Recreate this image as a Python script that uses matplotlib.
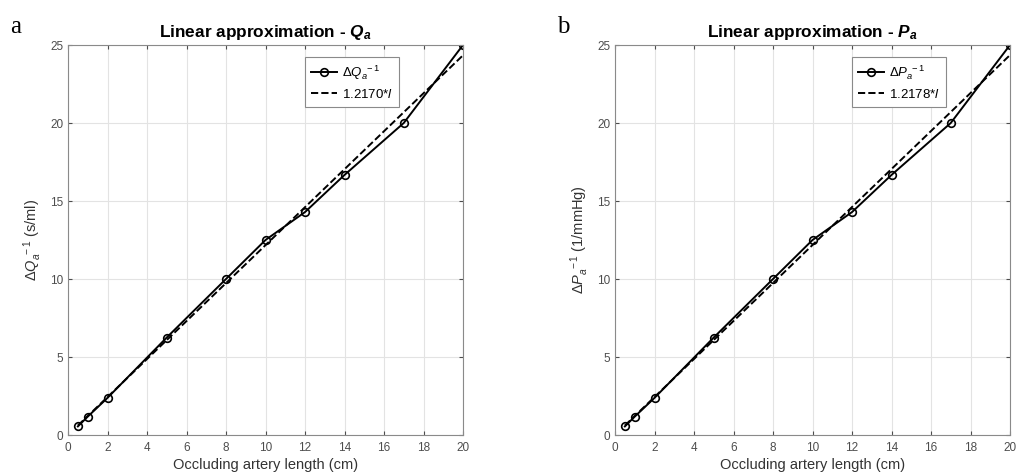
import matplotlib
matplotlib.use("Agg")
import matplotlib.pyplot as plt
import numpy as np

plt.rcParams['font.family'] = ['Liberation Sans', 'DejaVu Sans']
plt.rcParams['mathtext.fontset'] = 'custom'
plt.rcParams['mathtext.rm'] = 'Liberation Sans'
plt.rcParams['mathtext.it'] = 'Liberation Sans:italic'
plt.rcParams['mathtext.bf'] = 'Liberation Sans:bold'
plt.rcParams['mathtext.bfit'] = 'Liberation Sans:italic:bold'

# data
length = [0.5, 1, 2, 5, 8, 10, 12, 14, 17, 20]
dQ_inv = [0.55, 1.18, 2.38, 6.25, 10.0, 12.5, 14.29, 16.67, 20.0, 25.0]
dP_inv = [0.55, 1.18, 2.38, 6.25, 10.0, 12.5, 14.29, 16.67, 20.0, 25.0]
slope_Q = 1.2170
slope_P = 1.2178

panels = [
    ("a", r"Linear approximation - $\mathbfit{Q}_\mathbfit{a}$", dQ_inv, slope_Q,
     r"$\Delta \mathit{Q}_a^{\ -1}$ (s/ml)", r"$\Delta \mathit{Q}_a^{\ -1}$"),
    ("b", r"Linear approximation - $\mathbfit{P}_\mathbfit{a}$", dP_inv, slope_P,
     r"$\Delta \mathit{P}_a^{\ -1}$ (1/mmHg)", r"$\Delta \mathit{P}_a^{\ -1}$"),
]

fig = plt.figure(figsize=(10.16, 4.74), dpi=100)
lefts = [68 / 1016, 615 / 1016]
w = 395 / 1016
gray = '#4d4d4d'

for (tag, title, y, k, ylab, leg), l in zip(panels, lefts):
    ax = fig.add_axes([l, 39 / 474, w, 390 / 474])
    x = np.array(length)
    ax.plot(x, y, '-o', color='k', lw=1.4, ms=5.5, mfc='none', mew=1.2, label=leg)
    ax.plot(x, k * x, '--', color='k', lw=1.4, label='%.4f*$\\mathit{l}$' % k)
    ax.set_xlim(0, 20)
    ax.set_ylim(0, 25)
    ax.set_xticks(range(0, 21, 2))
    ax.set_yticks(range(0, 26, 5))
    ax.grid(True, color='#e3e3e3', lw=0.8)
    ax.set_axisbelow(True)
    for s in ax.spines.values():
        s.set_color('#8a8a8a')
    ax.tick_params(colors=gray, labelsize=8.5, length=3, direction='in', top=True, right=True)
    ax.tick_params(axis='x', pad=5)
    ax.set_xlabel('Occluding artery length (cm)', fontsize=10.5, color='#333333', labelpad=3)
    ax.set_ylabel(ylab, fontsize=10.5, color='#333333', labelpad=4)
    ax.set_title(title, fontsize=12.4, fontweight='bold', pad=6)
    lg = ax.legend(loc='upper right', bbox_to_anchor=(0.855, 0.985), fancybox=False,
                   edgecolor='#8a8a8a', fontsize=9.5, handlelength=2.0, borderpad=0.45,
                   labelspacing=0.45, handletextpad=0.4, framealpha=1)
    lg.get_frame().set_linewidth(0.8)
    fig.text(l - 58 / 1016, 1 - 27 / 474, tag, fontsize=18, family='Liberation Serif',
             va='center')

fig.savefig('out.png', dpi=100)
